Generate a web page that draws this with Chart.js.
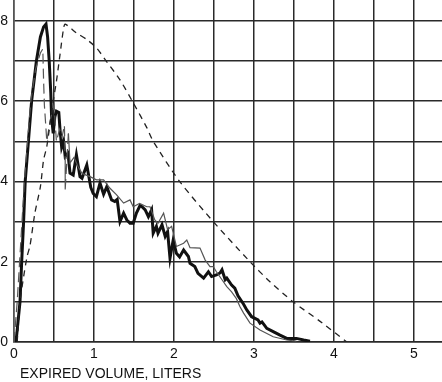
<!DOCTYPE html>
<html>
<head>
<meta charset="utf-8">
<script src="https://cdn.jsdelivr.net/npm/chart.js@4/dist/chart.umd.min.js"></script>
<style>
  html, body { margin: 0; padding: 0; background: #fff; }
  #wrap { width: 442px; height: 382px; position: relative; }
</style>
</head>
<body>
<div id="wrap"><canvas id="c" width="442" height="382"></canvas></div>
<script>
// ---- data (expired volume in liters vs flow in L/s) ----
const xGridLines = [0,0.5,1,1.5,2,2.5,3,3.5,4,4.5,5];
const yGridLines = [0,1,2,3,4,5,6,7,8];
const xTickLabels = [0, 1, 2, 3, 4, 5];
const yTickLabels = [0, 2, 4, 6, 8];
const axisTitle = "EXPIRED VOLUME, LITERS";

const thickX = [0.025,0.05,0.075,0.096,0.12,0.14,0.18,0.22,0.28,0.33,0.37,0.40,0.42,0.44,0.46,0.47,0.49,0.51,0.53,0.56,0.575,0.596,0.62,0.64,0.675,0.70,0.74,0.78,0.825,0.85,0.91,0.96,0.99,1.03,1.075,1.12,1.16,1.22,1.26,1.29,1.325,1.37,1.41,1.45,1.49,1.53,1.575,1.60,1.64,1.68,1.72,1.74,1.78,1.80,1.85,1.89,1.92,1.95,1.99,2.03,2.07,2.12,2.18,2.20,2.26,2.30,2.37,2.43,2.47,2.53,2.575,2.60,2.64,2.66,2.72,2.76,2.80,2.87,2.91,2.97,3.05,3.075,3.10,3.16,3.24,3.325,3.41,3.53,3.62,3.70];
const thickY = [0,0.5,1,2,3,4,5,6,7,7.6,7.85,7.92,7.6,7.0,6.2,5.6,5.2,5.6,5.75,5.72,5.3,4.85,5.0,4.62,4.7,4.21,4.16,4.66,4.12,4.08,4.41,3.85,3.7,3.62,3.96,3.68,3.87,3.54,3.5,3.55,3.0,3.21,3.04,2.96,2.96,3.21,3.4,3.37,3.29,3.12,3.29,2.71,2.88,2.71,2.92,2.63,2.75,2.09,2.54,2.21,2.12,2.29,2.13,1.96,1.88,1.71,1.59,1.75,1.63,1.67,1.72,1.8,1.55,1.59,1.42,1.34,1.15,0.94,0.8,0.63,0.55,0.47,0.5,0.34,0.26,0.17,0.09,0.09,0.05,0.02];

const thinX = [0.0,0.04,0.07,0.10,0.13,0.17,0.21,0.27,0.33,0.36,0.37,0.38,0.41,0.45,0.50,0.53,0.57,0.60,0.63,0.64,0.64,0.68,0.70,0.75,0.80,0.85,0.95,1.03,1.12,1.20,1.28,1.37,1.45,1.49,1.57,1.66,1.70,1.76,1.80,1.87,1.92,1.97,2.03,2.12,2.16,2.20,2.325,2.39,2.45,2.49,2.53,2.60,2.66,2.72,2.78,2.825,2.87,2.95,3.075,3.24,3.41,3.53];
const thinY = [0,1,2,3,4,5,6,6.8,7.2,7.3,6.5,5.9,5.0,5.5,5.9,5.0,5.3,5.1,5.4,4.5,3.8,5.2,4.46,4.6,4.37,4.2,4.12,4.04,4.04,3.83,3.67,3.46,3.54,3.37,3.45,3.37,3.37,3.04,2.96,3.21,2.8,2.88,2.38,2.46,2.54,2.35,2.34,2.04,1.88,1.88,1.75,1.55,1.38,1.25,1.08,0.88,0.72,0.47,0.3,0.13,0.05,0.02];

const dashX = [0.04,0.075,0.16,0.20,0.26,0.33,0.37,0.41,0.49,0.53,0.575,0.62,0.64,0.78,0.90,1.03,1.16,1.325,1.49,1.66,1.74,2.07,2.49,2.95,3.20,3.49,3.85,4.16];
const dashY = [0,1,2.1,2.4,3.2,3.87,4.54,4.87,6.0,6.49,7.16,7.82,7.92,7.7,7.55,7.33,6.98,6.53,5.96,5.34,5.0,4.0,3.0,2.0,1.5,1.0,0.48,0];

const toPts = (xs, ys) => xs.map((x, i) => ({ x: x, y: ys[i] }));
const THIN_DASHED_UNTIL = 21; // early part of thin trace shows as long dashes

const titlePlugin = {
  id: 'xTitle',
  afterDraw(chart) {
    const ctx = chart.ctx;
    ctx.save();
    ctx.font = '14px "Liberation Sans", Arial, sans-serif';
    ctx.fillStyle = '#111';
    ctx.textBaseline = 'middle';
    ctx.textAlign = 'left';
    ctx.fillText(axisTitle, 20, 374);
    ctx.restore();
  }
};

const noPad = (s) => { s.paddingTop = 0; s.paddingBottom = 0; s.paddingLeft = 0; s.paddingRight = 0; };

new Chart(document.getElementById('c'), {
  type: 'scatter',
  data: {
    datasets: [
      {
        label: 'dashed',
        data: toPts(dashX, dashY),
        showLine: true,
        borderColor: '#222',
        borderWidth: 1.3,
        borderDash: [6, 5],
        pointRadius: 0,
        tension: 0.25
      },
      {
        label: 'thin',
        data: toPts(thinX, thinY),
        showLine: true,
        borderColor: '#555',
        borderWidth: 1.2,
        pointRadius: 0,
        tension: 0,
        segment: {
          borderDash: ctx => ctx.p0DataIndex < THIN_DASHED_UNTIL ? [10, 5] : undefined
        }
      },
      {
        label: 'thick',
        data: toPts(thickX, thickY),
        showLine: true,
        borderColor: '#111',
        borderWidth: 3,
        pointRadius: 0,
        tension: 0
      }
    ]
  },
  options: {
    responsive: false,
    animation: false,
    devicePixelRatio: 1,
    layout: { padding: 0 },
    plugins: { legend: { display: false }, tooltip: { enabled: false } },
    scales: {
      x: {
        type: 'linear',
        min: 0,
        max: 5.35,
        afterBuildTicks: (s) => { s.ticks = xGridLines.map(v => ({ value: v })); },
        afterFit: (s) => { s.height = 40; noPad(s); },
        ticks: {
          autoSkip: false,
          maxRotation: 0,
          padding: 4,
          color: '#111',
          font: { family: '"Liberation Sans", Arial, sans-serif', size: 14 },
          callback: (v) => xTickLabels.includes(v) ? String(v) : ''
        },
        grid: { color: '#2a2a2a', lineWidth: 1.5, drawTicks: false },
        border: { color: '#2a2a2a', width: 1.5 }
      },
      y: {
        type: 'linear',
        min: 0,
        max: 8.52,
        afterBuildTicks: (s) => { s.ticks = yGridLines.map(v => ({ value: v })); },
        afterFit: (s) => { s.width = 14; noPad(s); },
        ticks: {
          autoSkip: false,
          padding: 6,
          color: '#111',
          font: { family: '"Liberation Sans", Arial, sans-serif', size: 14 },
          callback: (v) => yTickLabels.includes(v) ? String(v) : ''
        },
        grid: { color: '#2a2a2a', lineWidth: 1.5, drawTicks: false },
        border: { color: '#555', width: 1.5 }
      }
    }
  },
  plugins: [titlePlugin]
});
</script>
</body>
</html>
